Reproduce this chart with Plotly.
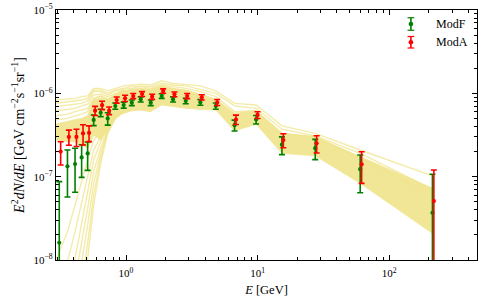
import plotly.graph_objects as go

# ---------------- data ----------------
E_data = [0.311, 0.359, 0.410, 0.460, 0.511, 0.568, 0.642, 0.726, 0.829, 0.960,
          1.107, 1.293, 1.541, 1.868, 2.277, 2.844, 3.673, 4.81, 6.68, 9.74,
          15.3, 27.4, 60.2, 213.0]

modF = [1.61e-8, 1.33e-7, 1.42e-7, 1.70e-7, 1.90e-7, 4.80e-7, 5.85e-7, 5.00e-7, 7.05e-7, 7.24e-7,
        7.72e-7, 8.48e-7, 7.72e-7, 9.29e-7, 8.48e-7, 8.09e-7, 7.80e-7, 7.05e-7, 4.15e-7, 4.85e-7,
        2.42e-7, 2.20e-7, 1.23e-7, 3.69e-8]
modF_err = [7.1e-8, 7.6e-8, 7.7e-8, 7.2e-8, 7.1e-8, 7.0e-8, 6.0e-8, 8.5e-8, 6.0e-8, 6.0e-8,
            6.0e-8, 6.0e-8, 6.0e-8, 6.0e-8, 6.0e-8, 6.0e-8, 6.0e-8, 6.0e-8, 6.2e-8, 5.6e-8,
            5.8e-8, 6.0e-8, 5.9e-8, 7.0e-8]

modA = [2.00e-7, 3.00e-7, 3.00e-7, 3.30e-7, 3.35e-7, 6.20e-7, 7.20e-7, 6.20e-7, 8.32e-7, 8.72e-7,
        9.29e-7, 9.82e-7, 9.11e-7, 1.067e-6, 9.74e-7, 9.29e-7, 8.96e-7, 7.80e-7, 4.85e-7, 5.50e-7,
        2.75e-7, 2.51e-7, 1.41e-7, 5.10e-8]
modA_err = [6.2e-8, 6.2e-8, 7.0e-8, 9.0e-8, 7.2e-8, 7.8e-8, 8.3e-8, 6.5e-8, 7.0e-8, 7.5e-8,
            6.5e-8, 6.5e-8, 6.5e-8, 6.5e-8, 6.5e-8, 6.5e-8, 6.5e-8, 6.5e-8, 6.2e-8, 5.2e-8,
            5.3e-8, 5.85e-8, 5.8e-8, 6.9e-8]

# model curves (log10 of E^2 dN/dE) on the model energy grid
E_model = [0.29, 0.359, 0.410, 0.460, 0.511, 0.568, 0.642, 0.726, 0.829, 0.960,
           1.107, 1.293, 1.541, 1.868, 2.277, 2.844, 3.673, 4.81, 6.68, 9.74,
           15.3, 27.4, 60.2, 213.0]

model_T1 = [-6.08, -6.07, -6.06, -6.04, -6.03, -5.94, -5.94, -5.97, -5.94, -5.91, -5.90, -5.89,
            -5.90, -5.85, -5.88, -5.89, -5.91, -5.97, -6.12, -6.14, -6.39, -6.48, -6.68, -6.99]
model_T2 = [-6.12, -6.10, -6.09, -6.08, -6.06, -5.96, -5.96, -6.00, -5.96, -5.94, -5.92, -5.91,
            -5.92, -5.88, -5.90, -5.91, -5.95, -6.00, -6.15, -6.18, -6.43, -6.51, -6.72, -7.15]
model_T3 = [-6.16, -6.14, -6.13, -6.12, -6.09, -5.98, -5.98, -6.02, -5.97, -5.95, -5.94, -5.92,
            -5.94, -5.90, -5.92, -5.94, -5.98, -6.04, -6.22, -6.21, -6.48, -6.52, -6.78, -7.22]
band_upper = [-6.37, -6.34, -6.32, -6.30, -6.27, -6.08, -6.06, -6.08, -6.02, -5.97, -5.95, -5.94,
              -5.95, -5.91, -5.94, -5.96, -6.01, -6.07, -6.24, -6.21, -6.48, -6.52, -6.76, -7.14]
band_lower = [-6.56, -6.58, -6.58, -6.62, -6.66, -6.50, -6.56, -6.42, -6.28, -6.24, -6.21, -6.20,
              -6.22, -6.14, -6.16, -6.18, -6.19, -6.20, -6.45, -6.37, -6.72, -6.75, -7.08, -7.68]

# low-energy branches (first 10 grid energies)
model_U4 = [-6.21, -6.19, -6.18, -6.15, -6.13, -6.02, -6.01, -6.04, -6.00, -5.96]
model_U5 = [-6.27, -6.25, -6.22, -6.20, -6.18, -6.06, -6.03, -6.07, -6.02, -5.97]
model_U6 = [-6.32, -6.30, -6.27, -6.25, -6.22, -6.07, -6.04, -6.08, -6.02, -5.97]
model_P1 = [-8.02, -7.66, -7.34, -7.04, -6.80, -6.56, -6.46, -6.37, -6.27, -6.22]
model_P2 = [-8.38, -8.02, -7.66, -7.30, -6.99, -6.68, -6.52, -6.39, -6.27, -6.22]
model_P3 = [-8.78, -8.38, -7.98, -7.57, -7.18, -6.80, -6.58, -6.42, -6.28, -6.22]
model_P4 = [-9.14, -8.70, -8.24, -7.81, -7.38, -6.94, -6.66, -6.43, -6.28, -6.22]
model_P5 = [-9.50, -9.02, -8.54, -8.06, -7.58, -7.08, -6.72, -6.45, -6.30, -6.22]
model_P6 = [-9.80, -9.32, -8.82, -8.31, -7.80, -7.22, -6.78, -6.46, -6.30, -6.22]
model_P7 = [-10.16, -9.62, -9.08, -8.54, -7.98, -7.34, -6.84, -6.48, -6.30, -6.22]

x_tickvals = [1, 10, 100]
x_ticktext = ["10<sup>0</sup>", "10<sup>1</sup>", "10<sup>2</sup>"]
y_tickvals = [1e-8, 1e-7, 1e-6, 1e-5]
y_ticktext = ["10<sup>\u22128</sup>", "10<sup>\u22127</sup>", "10<sup>\u22126</sup>", "10<sup>\u22125</sup>"]

series_names = ["ModF", "ModA"]
series_colors = ["#008000", "#ff0000"]

# ---------------- figure ----------------
KHAKI_FILL = "rgba(240,228,140,0.92)"
KHAKI_LINE = "rgba(240,228,140,0.75)"
FONT = "Liberation Serif"

fig = go.Figure()

def tolin(arr):
    return [10 ** v for v in arr]

# band body
fig.add_trace(go.Scatter(x=E_model, y=tolin(band_lower), mode="lines",
                         line=dict(color=KHAKI_LINE, width=1), showlegend=False, hoverinfo="skip"))
fig.add_trace(go.Scatter(x=E_model, y=tolin(band_upper), mode="lines", fill="tonexty",
                         fillcolor=KHAKI_FILL, line=dict(color=KHAKI_LINE, width=1),
                         showlegend=False, hoverinfo="skip"))

for curve in [model_T1, model_T2, model_T3]:
    fig.add_trace(go.Scatter(x=E_model, y=tolin(curve), mode="lines",
                             line=dict(color=KHAKI_LINE, width=1.4), showlegend=False, hoverinfo="skip"))
for curve in [model_U4, model_U5, model_U6, model_P1, model_P2, model_P3,
              model_P4, model_P5, model_P6, model_P7]:
    fig.add_trace(go.Scatter(x=E_model[:len(curve)], y=tolin(curve), mode="lines",
                             line=dict(color=KHAKI_LINE, width=1.4), showlegend=False, hoverinfo="skip"))

# data
E_modA = [e * 1.025 for e in E_data]
for name, xs, ys, errs, col in [(series_names[0], E_data, modF, modF_err, series_colors[0]),
                                (series_names[1], E_modA, modA, modA_err, series_colors[1])]:
    fig.add_trace(go.Scatter(
        x=xs, y=ys, mode="markers", name=name,
        marker=dict(color=col, size=4.2, symbol="circle"),
        error_y=dict(type="data", array=errs, visible=True, color=col, thickness=1.6, width=3),
        showlegend=False))

# manual matplotlib-like legend (icons + text)
leg_x = 0.843
leg_items = [(0.944, 0.025), (0.871, 0.023)]
for (yc, half), name, col in zip(leg_items, series_names, series_colors):
    fig.add_shape(type="line", xref="paper", yref="paper", x0=leg_x, x1=leg_x,
                  y0=yc - half, y1=yc + half, line=dict(color=col, width=1.6))
    for yy in (yc - half, yc + half):
        fig.add_shape(type="line", xref="paper", yref="paper", x0=leg_x - 0.008, x1=leg_x + 0.008,
                      y0=yy, y1=yy, line=dict(color=col, width=1.2))
    fig.add_shape(type="circle", xref="paper", yref="paper", x0=leg_x - 0.0055, x1=leg_x + 0.0055,
                  y0=yc - 0.009, y1=yc + 0.009, fillcolor=col, line=dict(color=col, width=0))
    fig.add_annotation(xref="paper", yref="paper", x=0.898, y=yc, text=name, showarrow=False,
                       xanchor="left", yanchor="middle", font=dict(family=FONT, size=12, color="black"))

minor_x = [m * 10 ** k for k in range(-1, 3) for m in range(2, 10) if 0.294 < m * 10 ** k < 464]
minor_y = [m * 10 ** k for k in range(-8, -5) for m in range(2, 10)]

axis_common = dict(type="log", ticks="inside", ticklen=5, tickwidth=1, tickcolor="black",
                   mirror="allticks", showline=True, linecolor="black", linewidth=1.2,
                   showgrid=False, zeroline=False, tickfont=dict(family=FONT, size=11, color="black"))

fig.update_xaxes(**axis_common, range=[-0.532, 2.667], tickmode="array", tickvals=x_tickvals,
                 ticktext=x_ticktext, ticklabelstandoff=3,
                 minor=dict(tickmode="array", tickvals=minor_x, ticks="inside", ticklen=2.5,
                            tickcolor="black", showgrid=False),
                 title=dict(text="<i>E</i> [GeV]", font=dict(family=FONT, size=12.5), standoff=6))
fig.update_yaxes(**axis_common, range=[-8, -5], tickmode="array", tickvals=y_tickvals,
                 ticktext=y_ticktext,
                 minor=dict(tickmode="array", tickvals=minor_y, ticks="inside", ticklen=2.5,
                            tickcolor="black", showgrid=False),
                 title=dict(text="<i>E</i><sup>2</sup><i>dN</i>/<i>dE</i> [GeV cm<sup>\u22122</sup>s<sup>\u22121</sup>sr<sup>\u22121</sup>]",
                            font=dict(family=FONT, size=14), standoff=5))

fig.update_layout(width=484, height=300, margin=dict(l=56, r=7, t=10, b=40, autoexpand=False),
                  paper_bgcolor="white", plot_bgcolor="white", showlegend=False,
                  font=dict(family=FONT, size=11, color="black"))

fig.write_html("out.html", config={"displayModeBar": False},
               post_script="document.body.style.margin='0px';")
